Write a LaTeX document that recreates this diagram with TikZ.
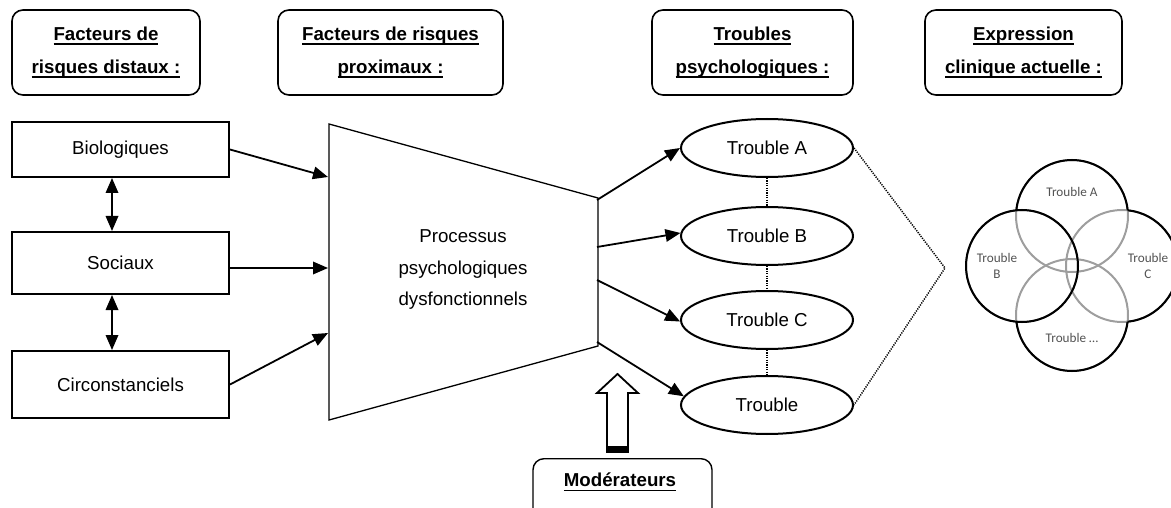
\documentclass[tikz,border=0pt]{standalone}
\usepackage{fontspec}
\setmainfont{Liberation Sans}
\newfontfamily\vennfont{Carlito}
\usetikzlibrary{arrows.meta,shapes.geometric}
\newcommand\myul[1]{{\setbox0\hbox{#1}\rlap{\vrule height -2.6pt depth 3.9pt width \wd0}\box0}}
\begin{document}
\begin{tikzpicture}[x=1pt,y=-1pt,
  hdr/.style={draw, line width=1.6pt, rounded corners=11pt, minimum height=85pt, align=center, inner sep=0pt,
    font=\bfseries\fontsize{18.7}{33}\selectfont},
  fbox/.style={draw, line width=2pt, minimum width=217pt, align=center, inner sep=0pt,
    font=\fontsize{18.7}{22}\selectfont},
  ell/.style={draw, ellipse, line width=2pt, minimum width=172pt, minimum height=58pt, inner sep=0pt,
    font=\fontsize{18.7}{22}\selectfont},
  arr/.style={line width=1.8pt, -{Triangle[length=15pt,width=12.5pt]}},
  darr/.style={line width=1.8pt, {Triangle[length=15pt,width=12.5pt]}-{Triangle[length=15pt,width=12.5pt]}},
  dotl/.style={line width=1.5pt, dash pattern=on 1.2pt off 1.2pt},
  vtxt/.style={font=\vennfont\fontsize{13.2}{15.5}\selectfont, text=black!68, align=center, inner sep=0pt},
  vgrey/.style={line width=2pt, draw=black!38},
  vblack/.style={line width=2pt, draw=black}
]
\useasboundingbox (0,0) rectangle (1171,508);

% headers
\node[hdr, minimum width=188pt] (h1) at (106,52.5) {\myul{Facteurs de}\\\myul{risques distaux :}};
\node[hdr, minimum width=225pt] (h2) at (390.5,52.5) {\myul{Facteurs de risques}\\\myul{proximaux :}};
\node[hdr, minimum width=201pt] (h3) at (752.5,52.5) {\myul{Troubles}\\\myul{psychologiques :}};
\node[hdr, minimum width=197pt] (h4) at (1023.5,52.5) {\myul{Expression}\\\myul{clinique actuelle :}};

% distal factors
\node[fbox, minimum height=55pt] (bio) at (120.5,149.5) {Biologiques};
\node[fbox, minimum height=62pt] (soc) at (120.5,263) {Sociaux};
\node[fbox, minimum height=67pt] (circ) at (120.5,384.5) {Circonstanciels};
\draw[darr] (bio.south -| 112,0) -- (soc.north -| 112,0);
\draw[darr] (soc.south -| 112,0) -- (circ.north -| 112,0);

% trapezoid
\coordinate (t1) at (329,124);
\coordinate (t2) at (598,198);
\coordinate (t3) at (598,346);
\coordinate (t4) at (329,420);
\draw[line width=1.3pt, line join=miter] (t1) -- (t2) -- (t3) -- (t4) -- cycle;
\node[align=center, inner sep=0pt, font=\fontsize{18.7}{31.5}\selectfont] (proc) at (463,270) {Processus\\psychologiques\\dysfonctionnels};

\coordinate (in1) at (328,177);
\coordinate (in2) at (328,268);
\coordinate (in3) at (328,333);
\draw[arr] (bio.east) -- (in1);
\draw[arr] ([yshift=-5pt]soc.east) -- (in2);
\draw[arr] (circ.east) -- (in3);

% troubles
\node[ell] (tA) at (767,148) {Trouble A};
\node[ell] (tB) at (767,236) {Trouble B};
\node[ell] (tC) at (767,320) {Trouble C};
\node[ell] (tD) at (767,405) {Trouble};

\coordinate (o1) at (597,200);
\coordinate (o2) at (597,247);
\coordinate (o3) at (597,280);
\coordinate (o4) at (597,342);
\draw[arr] (o1) -- (tA.west);
\draw[arr] (o2) -- (tB.178);
\draw[arr] (o3) -- (tC.181);
\draw[arr] (o4) -- (tD.174);

\draw[dotl] (tA.south) -- (tB.north);
\draw[dotl] (tB.south) -- (tC.north);
\draw[dotl] (tC.south) -- (tD.north);
\coordinate (apex) at (945,268);
\draw[dotl] (tA.east) -- (apex) -- (tD.east);

% moderators
\node[draw, line width=1.4pt, rounded corners=11pt, minimum width=179pt, minimum height=80pt, anchor=north, inner sep=0pt] (mod) at (622.5,458) {};
\node[inner sep=0pt, font=\bfseries\fontsize{18.7}{22}\selectfont] (modl) at (620,482) {\myul{Modérateurs}};
\draw[line width=1.8pt, fill=white, line join=miter]
  (607,452) -- (607,393) -- (597,393) -- (617.5,374) -- (638,393) -- (628,393) -- (628,452) -- cycle;
\fill (606.1,446) rectangle (628.9,452.9);

% Venn
\draw[vgrey] (1072,216) circle[radius=56pt];
\draw[vgrey] (1022,266) circle[radius=56pt];
\draw[vgrey] (1122,266) circle[radius=56pt];
\draw[vgrey] (1072,315) circle[radius=56pt];
\begin{scope}[even odd rule]
 \clip (-10,-10) rectangle (1200,520) (1022,266) circle[radius=56pt];
 \clip (-10,-10) rectangle (1200,520) (1122,266) circle[radius=56pt];
 \clip (-10,-10) rectangle (1200,520) (1072,315) circle[radius=56pt];
 \draw[vblack] (1072,216) circle[radius=56pt];
\end{scope}
\begin{scope}[even odd rule]
 \clip (-10,-10) rectangle (1200,520) (1022,266) circle[radius=56pt];
 \clip (-10,-10) rectangle (1200,520) (1072,216) circle[radius=56pt];
 \clip (-10,-10) rectangle (1200,520) (1072,315) circle[radius=56pt];
 \draw[vblack] (1122,266) circle[radius=56pt];
\end{scope}
\begin{scope}[even odd rule]
 \clip (-10,-10) rectangle (1200,520) (1022,266) circle[radius=56pt];
 \clip (-10,-10) rectangle (1200,520) (1072,216) circle[radius=56pt];
 \clip (-10,-10) rectangle (1200,520) (1122,266) circle[radius=56pt];
 \draw[vblack] (1072,315) circle[radius=56pt];
\end{scope}
\draw[vblack] (1022,266) circle[radius=56pt];

\node[vtxt] (vA) at (1072,192) {Trouble A};
\node[vtxt] (vB) at (997,266) {Trouble\\B};
\node[vtxt] (vC) at (1148,266) {Trouble\\C};
\node[vtxt] (vD) at (1072,338) {Trouble \dots};
\end{tikzpicture}
\end{document}
